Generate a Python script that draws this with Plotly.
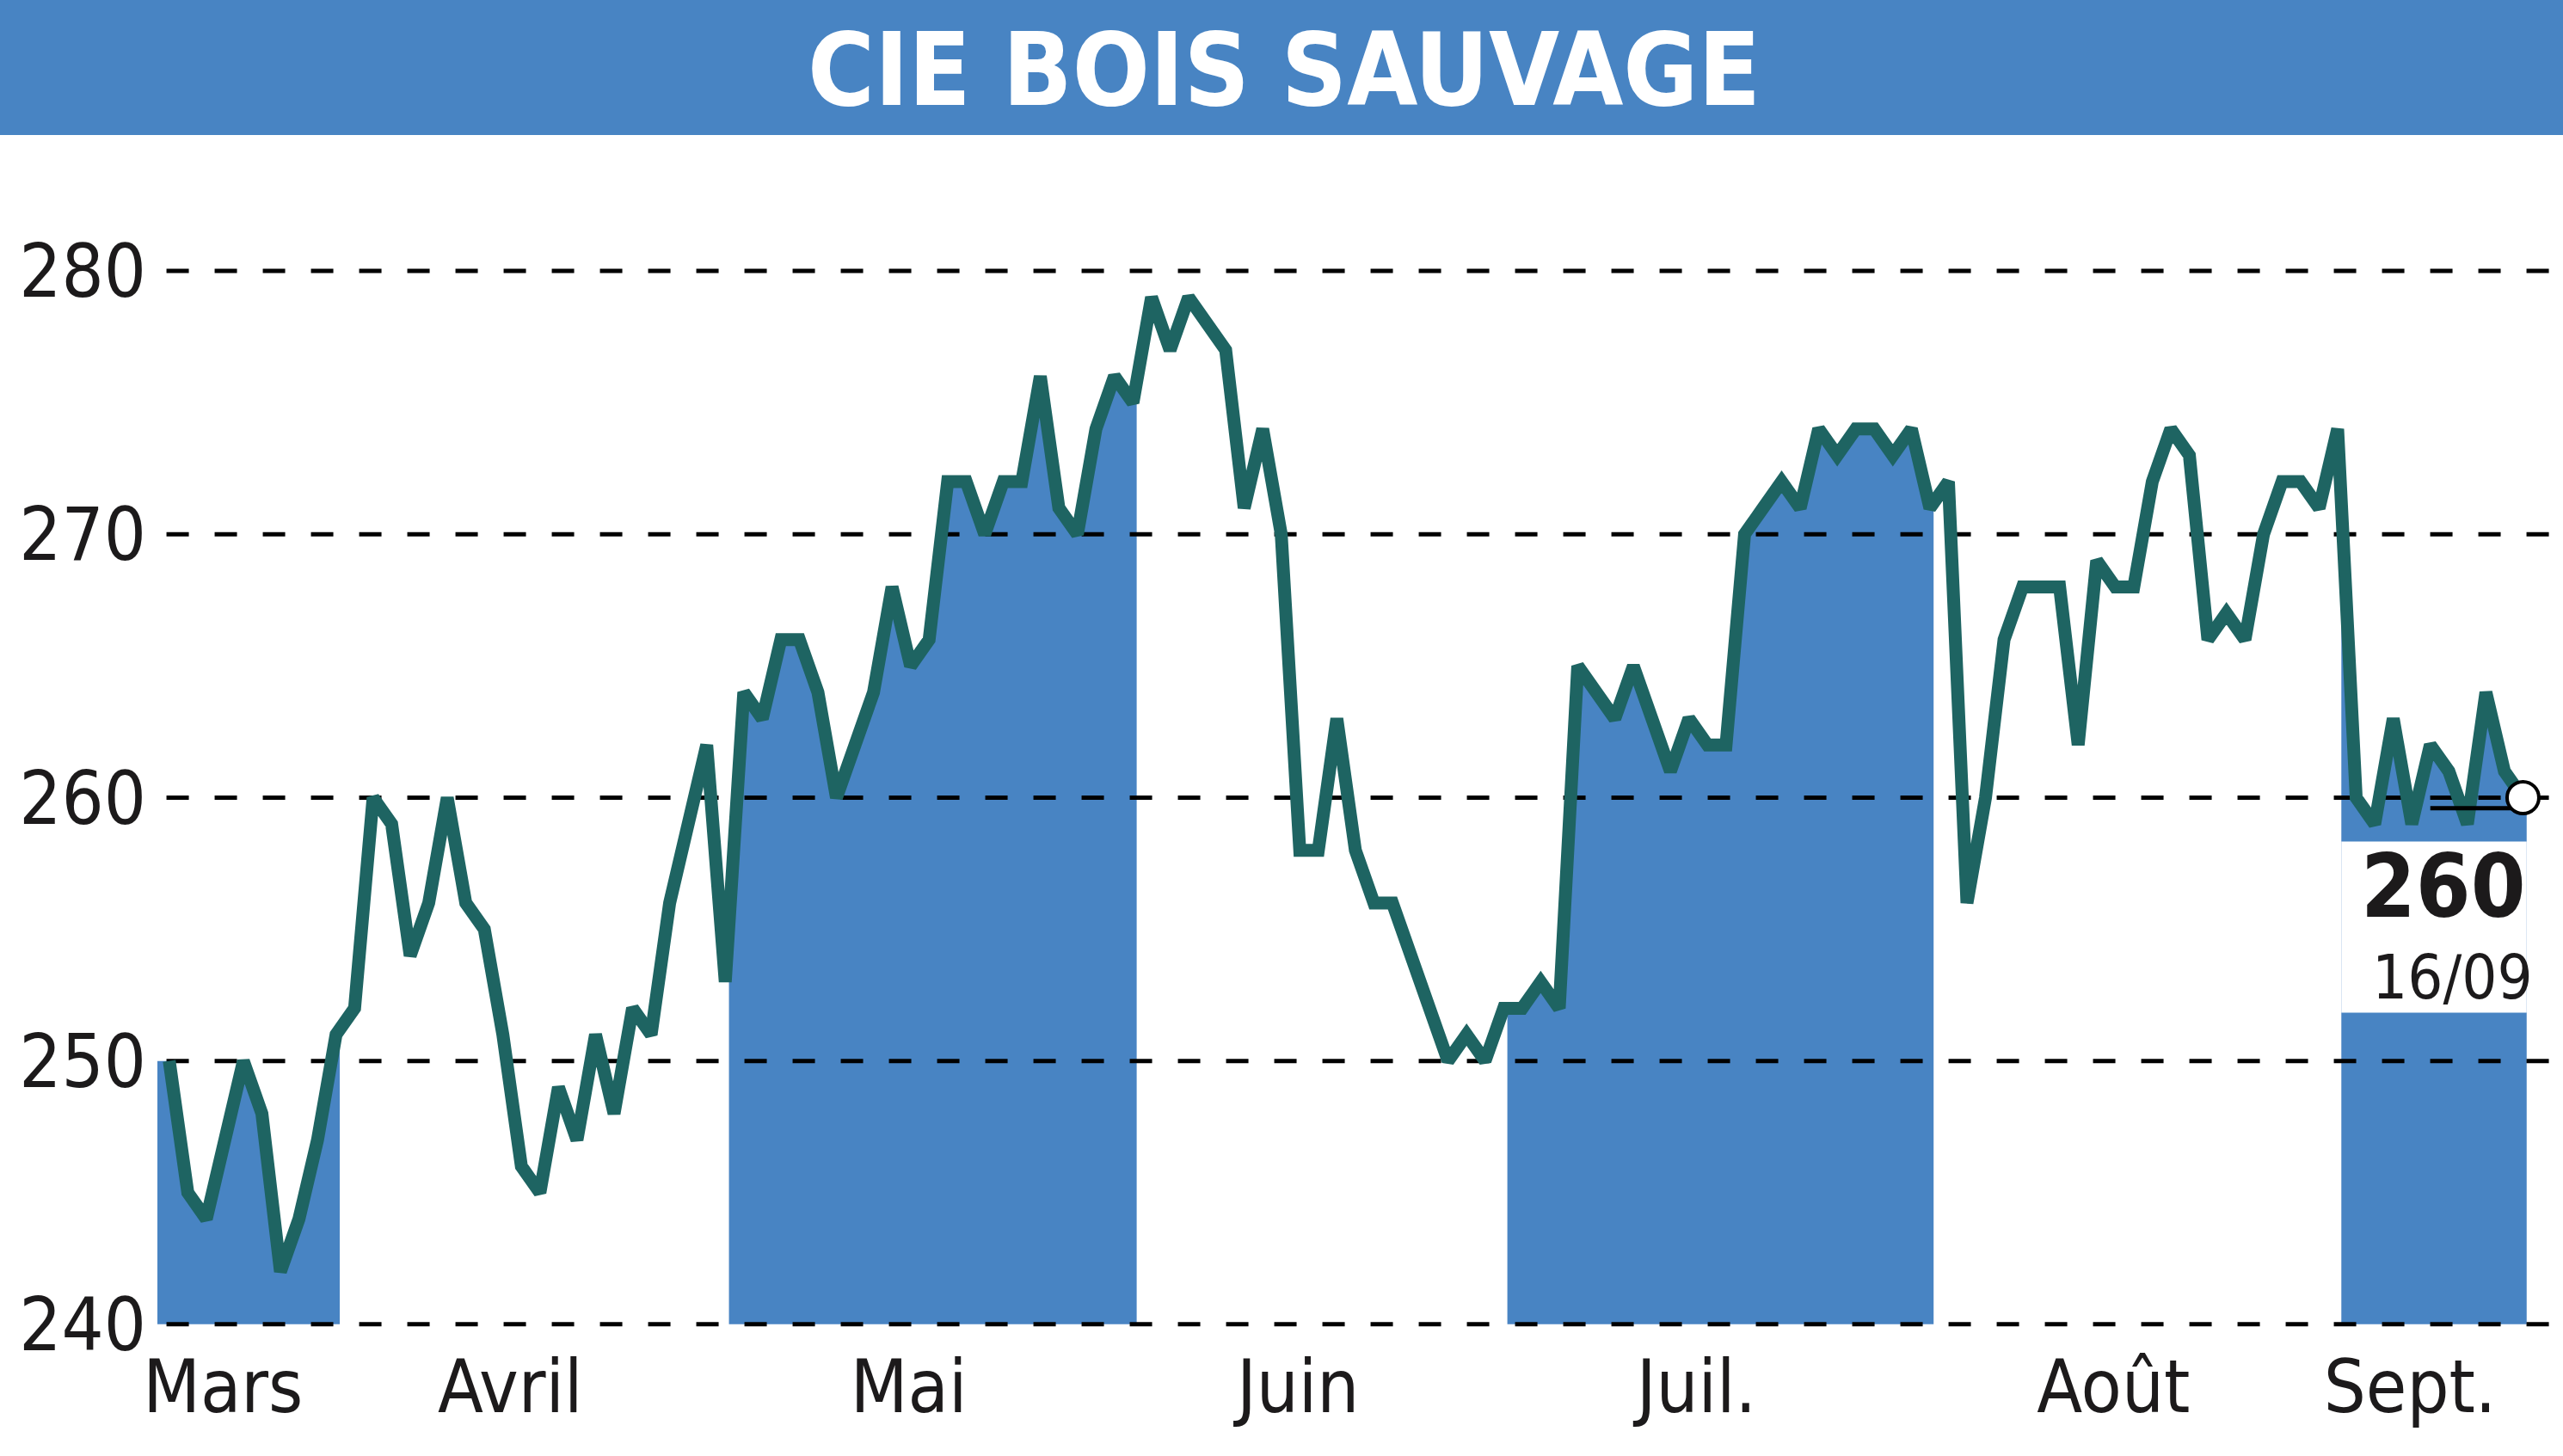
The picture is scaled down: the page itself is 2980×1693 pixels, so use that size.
import numpy as np
import plotly.graph_objects as go

# ---------------- data ----------------
months = ["Mars", "Avril", "Mai", "Juin", "Juil.", "Août", "Sept."]
mars = [250, 245, 244, 247, 250, 248, 242, 244, 247, 251]
avril = [252, 260, 259, 254, 256, 260, 256, 255, 251, 246, 245, 249, 247, 251, 248,
         252, 251, 256, 259, 262, 253]
mai = [264, 263, 266, 266, 264, 260, 262, 264, 268, 265, 266, 272, 272, 270, 272,
       272, 276, 271, 270, 274, 276, 275]
juin = [279, 277, 279, 278, 277, 271, 274, 270, 258, 258, 263, 258, 256, 256, 254,
        252, 250, 251, 250, 252]
juil = [252, 253, 252, 265, 264, 263, 265, 263, 261, 263, 262, 262, 270, 271, 272,
        271, 274, 273, 274, 274, 273, 274, 271]
aout = [272, 256, 260, 266, 268, 268, 268, 262, 269, 268, 268, 272, 274, 273, 266,
        267, 266, 270, 272, 272, 271, 274]
sept = [260, 259, 263, 259, 262, 261, 259, 264, 261, 260]
shaded = [True, False, True, False, True, False, True]
y_ticks = [240, 250, 260, 270, 280]
title_text = "CIE BOIS SAUVAGE"
last_label = "260"
last_date = "16/09"

# ---------------- styles ----------------
BLUE = "#4884c3"
TEAL = "#1e6462"
INK = "#1c1a1b"
FONT = "Liberation Sans Narrow, DejaVu Sans Condensed, Arial Narrow, sans-serif"

month_values = [mars, avril, mai, juin, juil, aout, sept]
values = np.array(sum(month_values, []), dtype=float)
idx = np.arange(len(values))
lengths = np.array([len(m) for m in month_values])
starts = np.concatenate([[0], np.cumsum(lengths)[:-1]])
ends = starts + lengths - 1

X0, X1 = -0.64, 129.16
Y0, Y1 = 239.83, 284.74

fig = go.Figure()

# shaded months (area under the line)
for m, (s, e) in enumerate(zip(starts, ends)):
    if not shaded[m]:
        continue
    xl, xr = s - 0.8, e + 0.2
    xs = [xl, xl] + list(idx[s:e + 1]) + [xr, xr]
    ys = [y_ticks[0], float(np.interp(xl, idx, values))] + list(values[s:e + 1]) + \
         [float(np.interp(xr, idx, values)), y_ticks[0]]
    fig.add_trace(go.Scatter(x=xs, y=ys, mode="lines", fill="toself",
                             fillcolor=BLUE, line=dict(width=0, color=BLUE),
                             hoverinfo="skip", showlegend=False))

# dashed gridlines (above the fills, below the price line)
for v in y_ticks:
    fig.add_trace(go.Scatter(x=[-0.15, X1], y=[v, v], mode="lines",
                             line=dict(color="black", width=5, dash="26px,30px"),
                             hoverinfo="skip", showlegend=False))

# price line
fig.add_trace(go.Scatter(x=idx, y=values, mode="lines",
                         line=dict(color=TEAL, width=15),
                         showlegend=False))

# small black marker line and end circle
fig.add_trace(go.Scatter(x=[idx[-1] - 5, idx[-1]], y=[values[-1] - 0.4] * 2,
                         mode="lines", line=dict(color="black", width=5),
                         hoverinfo="skip", showlegend=False))
fig.add_trace(go.Scatter(x=[idx[-1]], y=[values[-1]], mode="markers",
                         marker=dict(size=37, color="white",
                                     line=dict(color="black", width=4)),
                         cliponaxis=False, showlegend=False))

sept_s, sept_e = starts[-1], ends[-1]
shapes = [
    # title bar
    dict(type="rect", xref="paper", yref="paper", x0=-0.1, x1=1.1,
         y0=1.00945, y1=1.2, fillcolor=BLUE, line=dict(width=0), layer="above"),
    # white box behind the last value label
    dict(type="rect", xref="x", yref="y", x0=sept_s - 0.8, x1=sept_e + 0.2,
         y0=values[-1] - 8.17, y1=values[-1] - 1.67,
         fillcolor="white", line=dict(width=0), layer="above"),
]

label_pos = [(s + e) / 2 - 1.6 for s, e in zip(starts, ends)]

annotations = [
    dict(text=title_text, xref="paper", yref="paper", x=0.4683, y=1.0647,
         xanchor="center", yanchor="middle", showarrow=False,
         font=dict(family=FONT, size=118, color="white", weight="bold")),
    dict(text=last_label, xref="x", yref="y", x=sept_s + 4.7, y=values[-1] - 3.35,
         xanchor="center", yanchor="middle", showarrow=False,
         font=dict(family=FONT, size=102, color=INK, weight="bold")),
    dict(text=last_date, xref="x", yref="y", x=sept_s + 5.2, y=values[-1] - 6.8,
         xanchor="center", yanchor="middle", showarrow=False,
         font=dict(family=FONT, size=72, color=INK)),
]

fig.update_layout(
    width=2980, height=1693,
    margin=dict(l=183, r=0, t=170, b=148, pad=0),
    paper_bgcolor="white", plot_bgcolor="white",
    showlegend=False,
    shapes=shapes, annotations=annotations,
    xaxis=dict(range=[X0, X1], showgrid=False, zeroline=False, showline=False,
               tickmode="array", tickvals=label_pos, ticktext=months,
               ticks="", ticklabelstandoff=10,
               tickfont=dict(family=FONT, size=86, color=INK)),
    yaxis=dict(range=[Y0, Y1], showgrid=False, zeroline=False, showline=False,
               tickmode="array", tickvals=y_ticks, ticktext=[str(v) for v in y_ticks],
               ticks="", ticklabelstandoff=12,
               tickfont=dict(family=FONT, size=86, color=INK)),
)

fig.write_html("out.html",
               config={"displayModeBar": False},
               post_script="document.body.style.margin='0px';"
                           "document.body.style.overflow='hidden';")
